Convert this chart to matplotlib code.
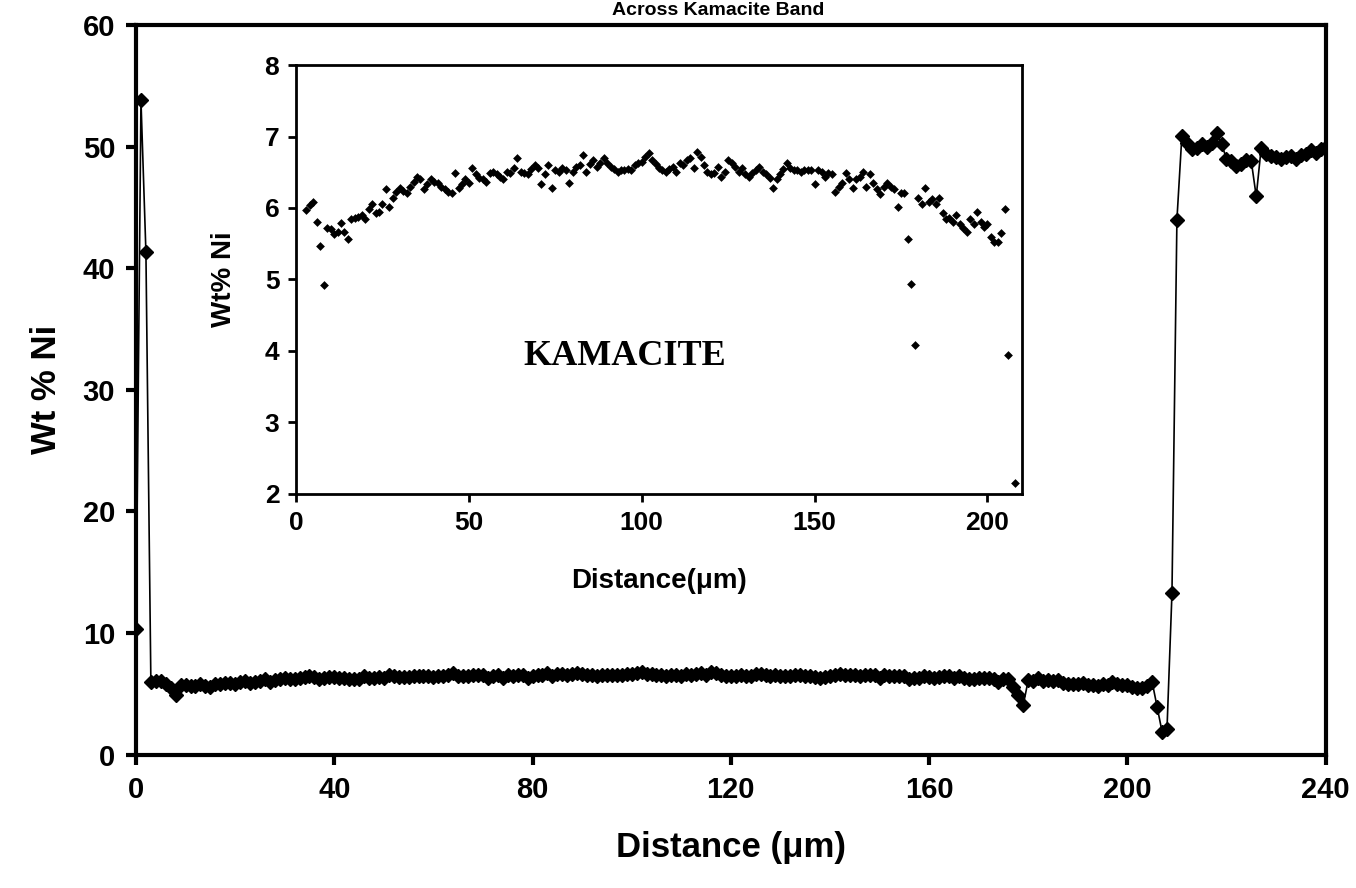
import numpy as np
import matplotlib
matplotlib.use("Agg")
import matplotlib.pyplot as plt

plt.rcParams['font.family'] = ['Liberation Sans', 'DejaVu Sans']
plt.rcParams['font.weight'] = 'bold'

# --- data ---
# first points (x = 0, 1, 2)
start_x = [0, 1, 2]
start_ni = [10.3, 53.8, 41.3]

# kamacite band, x = 3 .. 208 (um)
kam_x = list(range(3, 209))
kam_ni = [
    5.97, 6.04, 6.09, 5.80, 5.47, 4.93, 5.72,
    5.70, 5.63, 5.66, 5.79, 5.67, 5.56, 5.84, 5.86, 5.88, 5.90,
    5.84, 5.98, 6.05, 5.93, 5.95, 6.05, 6.26, 6.02, 6.14, 6.23,
    6.28, 6.24, 6.21, 6.30, 6.37, 6.44, 6.40, 6.26, 6.33, 6.40,
    6.37, 6.35, 6.30, 6.26, 6.22, 6.21, 6.49, 6.28, 6.33, 6.40,
    6.35, 6.56, 6.47, 6.42, 6.40, 6.37, 6.49, 6.51, 6.47, 6.44,
    6.40, 6.51, 6.49, 6.56, 6.70, 6.51, 6.49, 6.47, 6.55, 6.60,
    6.56, 6.33, 6.47, 6.60, 6.28, 6.53, 6.51, 6.56, 6.53, 6.35,
    6.51, 6.58, 6.60, 6.74, 6.51, 6.62, 6.67, 6.58, 6.63, 6.70,
    6.63, 6.58, 6.55, 6.51, 6.53, 6.53, 6.55, 6.53, 6.60, 6.63,
    6.65, 6.72, 6.77, 6.67, 6.62, 6.56, 6.53, 6.51, 6.55, 6.58,
    6.51, 6.63, 6.60, 6.67, 6.70, 6.56, 6.79, 6.72, 6.60, 6.51,
    6.47, 6.49, 6.58, 6.44, 6.51, 6.67, 6.63, 6.58, 6.51, 6.56,
    6.47, 6.44, 6.49, 6.53, 6.58, 6.51, 6.47, 6.42, 6.28, 6.40,
    6.47, 6.55, 6.63, 6.56, 6.53, 6.53, 6.51, 6.53, 6.53, 6.53,
    6.33, 6.53, 6.51, 6.44, 6.49, 6.47, 6.23, 6.30, 6.35, 6.49,
    6.40, 6.28, 6.40, 6.44, 6.51, 6.30, 6.47, 6.35, 6.26, 6.19,
    6.30, 6.35, 6.30, 6.26, 6.02, 6.21, 6.21, 5.57, 4.94, 4.08,
    6.14, 6.05, 6.28, 6.09, 6.12, 6.05, 6.14, 5.93, 5.84, 5.86,
    5.81, 5.90, 5.77, 5.72, 5.67, 5.84, 5.77, 5.95, 5.81, 5.74,
    5.77, 5.60, 5.53, 5.53, 5.65, 5.99, 3.94, 1.90, 2.16,
]

# taenite side, x = 209 .. 240
end_x = list(range(209, 241))
end_ni = [
    13.3, 44.0,
    50.9, 50.3, 49.8, 49.9, 50.2, 50.0, 50.3, 51.1, 50.2, 49.0,
    48.8, 48.4, 48.6, 48.9, 48.8, 45.9, 49.9,
    49.4, 49.2, 49.1, 49.0, 49.1, 49.2, 49.0, 49.3, 49.4, 49.7, 49.5, 49.8, 50.0,
]

x_all = start_x + kam_x + end_x
ni_all = start_ni + kam_ni + end_ni

fig = plt.figure(figsize=(13.56, 8.88), dpi=100)

# main axes
ax = fig.add_axes([0.1003, 0.150, 0.8773, 0.822])
ax.plot(x_all, ni_all, color='black', lw=1.2, marker='D', ms=7.5,
        mfc='black', mec='black')
ax.set_xlim(0, 240)
ax.set_ylim(0, 60)
ax.set_xticks(np.arange(0, 241, 40))
ax.set_yticks(np.arange(0, 61, 10))
for s in ax.spines.values():
    s.set_linewidth(3)
ax.tick_params(direction='out', length=7, width=3, labelsize=21, pad=8)
ax.set_xlabel('Distance (\u03bcm)', fontsize=25, fontweight='bold', labelpad=20)
ax.set_ylabel('Wt % Ni', fontsize=25, fontweight='bold', labelpad=14)
fig.text(0.53, 0.998, 'Across Kamacite Band', ha='center', va='top',
         fontsize=14, fontweight='bold')

# inset: kamacite only
ins = fig.add_axes([0.2183, 0.4437, 0.5354, 0.4831])
ins.scatter(kam_x, kam_ni, marker='D', s=20, color='black', linewidths=0)
ins.set_xlim(0, 210)
ins.set_ylim(2, 8)
ins.set_xticks(np.arange(0, 201, 50))
ins.set_yticks(np.arange(2, 9, 1))
for s in ins.spines.values():
    s.set_linewidth(2)
ins.tick_params(direction='out', length=6, width=2, labelsize=19, pad=6)
ins.set_xlabel('Distance(\u03bcm)', fontsize=20, fontweight='bold', labelpad=24)
ins.set_ylabel('Wt% Ni', fontsize=20, fontweight='bold', labelpad=20)
ins.text(95, 3.92, 'KAMACITE', ha='center', va='center', fontsize=26,
         fontweight='bold', family=['Liberation Serif', 'DejaVu Serif'])

fig.savefig('out.png', dpi=100)
